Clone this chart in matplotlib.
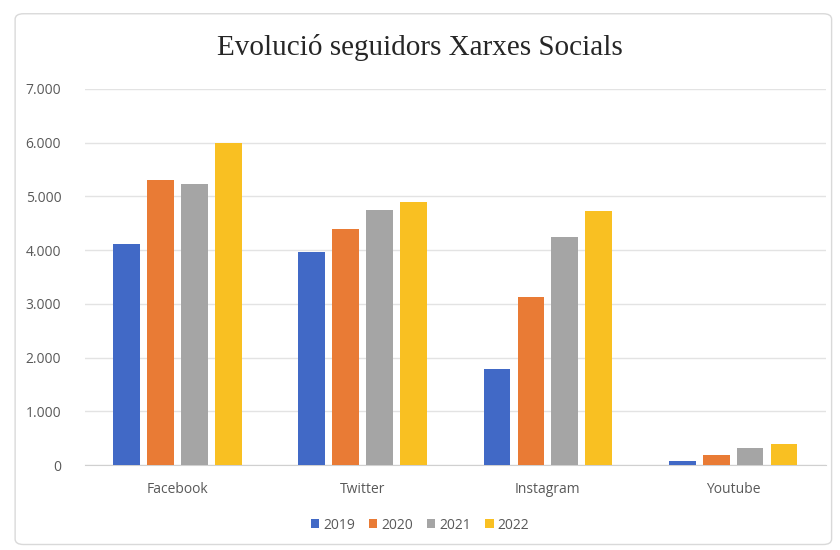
import matplotlib.pyplot as plt
import numpy as np
from matplotlib.patches import FancyBboxPatch
from matplotlib.ticker import FuncFormatter

# Dades
xarxes = ['Facebook', 'Twitter', 'Instagram', 'Youtube']
anys = ['2019', '2020', '2021', '2022']
seguidors_2019 = [4110, 3970, 1790, 70]
seguidors_2020 = [5300, 4390, 3130, 180]
seguidors_2021 = [5230, 4750, 4250, 320]
seguidors_2022 = [6000, 4900, 4730, 400]
colors = ['#4169C6', '#E97B35', '#A5A5A5', '#F9C022']

series = [seguidors_2019, seguidors_2020, seguidors_2021, seguidors_2022]

fig = plt.figure(figsize=(8.4, 5.5), dpi=100)
fig.patch.set_facecolor('white')

# marc exterior
marc = FancyBboxPatch((0.018, 0.01), 0.972, 0.965, boxstyle='round,pad=0,rounding_size=0.01',
                      transform=fig.transFigure, facecolor='white', edgecolor='#d9d9d9',
                      linewidth=1.0, zorder=-10)
fig.patches.append(marc)

ax = fig.add_axes([0.101, 0.1545, 0.882, 0.684])

x = np.arange(len(xarxes))
amplada = 0.145
pas = 0.183
for i, (vals, any_, col) in enumerate(zip(series, anys, colors)):
    ax.bar(x + (i - 1.5) * pas, vals, amplada, color=col, label=any_, zorder=3)

ax.set_xlim(-0.5, 3.5)
ax.set_ylim(0, 7000)
ax.set_yticks(range(0, 7001, 1000))
ax.yaxis.set_major_formatter(FuncFormatter(lambda v, p: f'{int(v):,}'.replace(',', '.')))
ax.set_xticks(x)
ax.set_xticklabels(xarxes)

ax.grid(axis='y', color='#e3e3e3', linewidth=1.0, zorder=0)
for s in ['top', 'right', 'left']:
    ax.spines[s].set_visible(False)
ax.spines['bottom'].set_color('#d0d0d0')
ax.tick_params(axis='both', length=0, labelsize=10, labelcolor='#595959')
ax.tick_params(axis='x', pad=12)
ax.tick_params(axis='y', pad=17)
for lbl in ax.get_xticklabels() + ax.get_yticklabels():
    lbl.set_fontfamily('Open Sans')

fig.text(0.5, 0.913, 'Evolució seguidors Xarxes Socials', ha='center', va='center',
         fontsize=21, fontfamily='Liberation Serif', color='#262626')

fig.legend(loc='center', bbox_to_anchor=(0.5, 0.045), ncol=4, frameon=False,
           handlelength=0.6, handleheight=0.6, handletextpad=0.3, columnspacing=1.0,
           prop={'family': 'Open Sans', 'size': 10}, labelcolor='#595959')

fig.savefig('out.png', dpi=100)
